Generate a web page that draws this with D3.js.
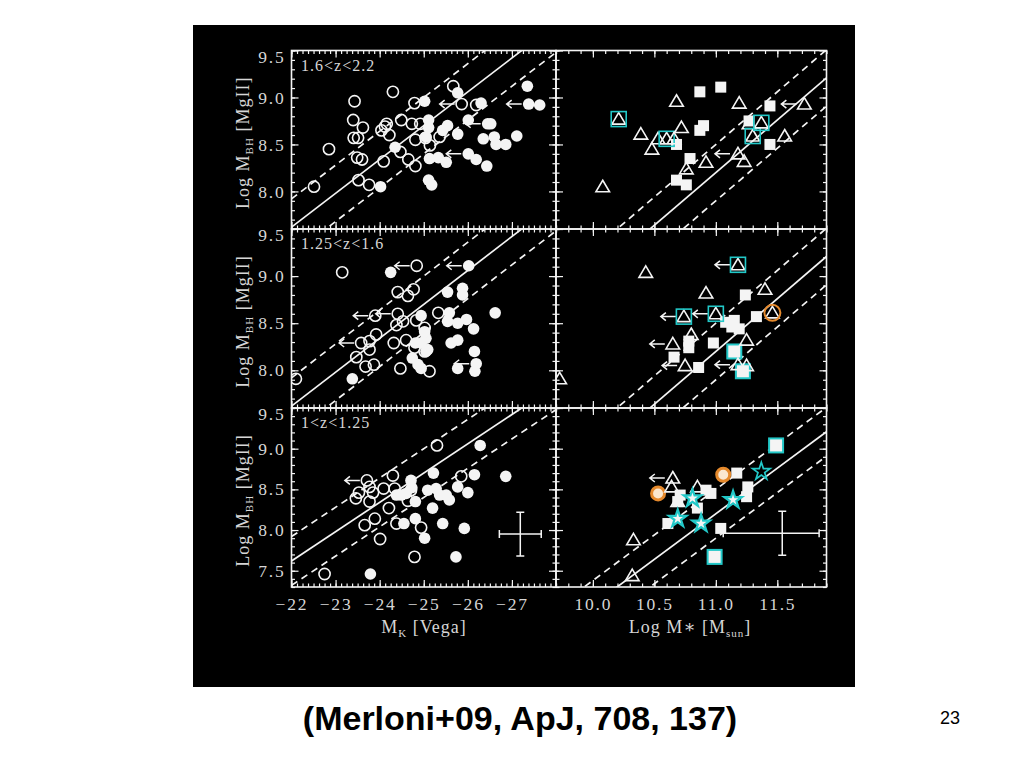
<!DOCTYPE html>
<html><head><meta charset="utf-8">
<script src="https://cdn.jsdelivr.net/npm/d3@7"></script>
<style>body{margin:0;background:#fff}</style>
</head><body><svg id="c" width="1024" height="768"></svg>
<script>
// ---------------- DATA ----------------
const zBins = ["1.6<z<2.2", "1.25<z<1.6", "1<z<1.25"];
const mkTicks = [-22, -23, -24, -25, -26, -27];
const mstarTicks = [10.0, 10.5, 11.0, 11.5];
const mbhTicks = [7.5, 8.0, 8.5, 9.0, 9.5];

// Left panels: [M_K, log M_BH, upperLimitArrow]
const hiZOpenCircles = [[-22.51,8.05,0],[-22.85,8.45,0],[-23.43,8.96,0],[-23.40,8.76,0],[-23.41,8.57,0],[-23.51,8.57,0],[-23.62,8.68,0],[-23.49,8.36,0],[-23.60,8.34,0],[-23.52,8.12,0],[-23.76,8.07,0],[-24.04,8.65,0],[-24.12,8.69,0],[-24.16,8.72,0],[-24.22,8.60,0],[-24.30,9.06,0],[-24.09,8.32,0],[-24.49,8.76,0],[-24.47,8.42,0],[-24.65,8.34,0],[-24.81,8.27,0],[-24.73,8.72,0],[-24.79,8.94,0],[-24.92,8.72,0],[-24.81,8.55,0],[-25.04,8.57,0],[-25.14,8.49,0],[-25.36,8.58,0],[-25.67,9.12,0],[-25.86,8.93,1],[-26.19,8.92,0]];
const hiZFilledCircles = [[-24.02,8.05,0],[-24.35,8.47,0],[-25.02,8.96,0],[-25.11,8.76,0],[-25.11,8.68,0],[-25.05,8.58,0],[-25.13,8.35,0],[-25.33,8.36,0],[-25.51,8.31,0],[-25.11,8.12,0],[-25.18,8.07,0],[-25.54,8.70,0],[-25.43,8.65,0],[-25.77,9.05,0],[-25.77,8.61,0],[-26.01,8.76,0],[-26.01,8.40,1],[-26.19,8.34,0],[-26.30,8.94,0],[-26.45,8.72,1],[-26.52,8.72,0],[-26.35,8.56,0],[-26.60,8.58,0],[-26.64,8.50,0],[-26.86,8.50,0],[-26.43,8.27,0],[-27.11,8.59,0],[-27.35,9.12,0],[-27.38,8.93,1],[-27.63,8.92,0]];
const midZOpenCircles = [[-22.10,7.91,0],[-23.15,9.04,0],[-23.47,8.14,0],[-23.58,8.29,1],[-23.77,8.31,0],[-23.77,8.22,0],[-23.92,8.38,0],[-23.68,8.04,0],[-23.87,8.06,0],[-23.90,8.58,1],[-24.41,8.60,1],[-24.38,8.48,0],[-24.41,8.83,0],[-24.64,8.79,0],[-24.77,8.86,0],[-24.53,8.52,0],[-24.60,8.32,0],[-24.83,8.53,0],[-24.32,8.29,0],[-24.47,8.02,0],[-24.84,9.11,1],[-25.02,8.45,0],[-24.79,8.24,0],[-25.02,8.20,0],[-25.13,7.99,0],[-25.33,8.61,0]];
const midZFilledCircles = [[-23.38,7.91,0],[-24.25,9.04,0],[-24.94,8.58,0],[-24.74,8.13,0],[-24.81,8.29,0],[-24.94,8.29,0],[-25.05,8.20,0],[-25.09,8.22,0],[-24.87,8.06,0],[-24.94,8.02,0],[-25.05,8.34,0],[-25.02,8.41,0],[-25.54,8.83,0],[-25.88,8.87,0],[-25.88,8.80,0],[-25.58,8.61,0],[-25.54,8.52,0],[-25.77,8.50,0],[-25.97,8.54,0],[-25.62,8.29,0],[-25.77,8.32,0],[-26.13,8.44,0],[-26.15,8.20,0],[-25.77,8.02,0],[-26.16,7.99,0],[-26.19,8.07,1],[-26.02,9.11,1],[-26.62,8.61,0]];
const loZOpenCircles = [[-22.75,7.46,0],[-23.46,8.39,0],[-23.53,8.46,0],[-23.71,8.61,1],[-23.77,8.53,0],[-23.85,8.46,0],[-23.77,8.35,0],[-23.66,8.06,0],[-23.89,8.14,0],[-24.01,7.89,0],[-24.09,8.51,0],[-24.21,8.27,0],[-24.30,8.67,0],[-24.34,8.51,0],[-24.38,8.08,0],[-24.64,8.36,0],[-24.79,7.67,0],[-24.94,8.03,0],[-25.30,9.04,0],[-25.85,8.66,0],[-24.71,8.49,0]];
const loZFilledCircles = [[-23.79,7.46,0],[-24.38,8.43,0],[-24.49,8.43,0],[-24.60,8.45,0],[-24.71,8.61,0],[-24.73,8.52,0],[-24.81,8.35,0],[-24.81,8.14,0],[-24.55,8.08,0],[-25.02,7.90,0],[-25.20,8.27,0],[-25.22,8.70,0],[-25.09,8.49,0],[-25.28,8.51,0],[-25.36,8.43,0],[-25.51,8.43,0],[-25.58,8.37,0],[-25.43,8.08,0],[-25.73,7.67,0],[-25.92,8.02,0],[-25.77,8.53,0],[-26.00,8.46,0],[-26.15,8.68,0],[-26.28,9.04,0],[-26.86,8.66,0]];

// Right panels triangles: [log M*, log M_BH, upperLimitArrow, ring(0 none,1 cyan box,2 orange circle)]
const hiZTriangles = [[10.08,8.05,0,0],[10.21,8.77,0,1],[10.39,8.61,0,0],[10.48,8.45,0,0],[10.53,8.56,0,0],[10.60,8.56,0,1],[10.66,8.56,0,0],[10.68,8.96,0,0],[10.72,8.68,0,0],[10.76,8.24,0,0],[10.92,8.31,0,0],[11.19,8.94,0,0],[11.18,8.40,1,0],[11.23,8.32,0,0],[11.27,8.72,0,0],[11.30,8.59,0,1],[11.37,8.73,0,1],[11.56,8.59,0,0],[11.72,8.93,1,0]];
const midZTriangles = [[9.73,7.91,0,0],[10.43,9.04,0,0],[11.18,9.12,1,1],[10.92,8.82,0,0],[11.40,8.86,0,0],[10.74,8.57,1,1],[11.00,8.60,1,1],[11.46,8.61,0,2],[10.80,8.38,0,0],[10.65,8.28,1,0],[11.25,8.32,0,0],[10.75,8.05,1,0],[11.18,8.06,1,0],[11.25,8.05,0,0]];
const loZTriangles = [[10.33,7.88,0,0],[10.32,7.44,0,0],[10.65,8.64,1,0],[10.64,8.53,0,0],[10.85,8.53,0,0],[10.69,8.35,0,0]];
// Squares: [log M*, log M_BH, cyanEdge]
const hiZSquares = [[10.87,9.06,0],[11.04,9.11,0],[10.90,8.70,0],[10.87,8.65,0],[10.68,8.50,0],[10.79,8.35,0],[10.68,8.12,0],[10.76,8.07,0],[11.27,8.75,0],[11.44,8.91,0],[11.44,8.50,0]];
const midZSquares = [[11.24,8.80,0],[11.33,8.57,0],[11.08,8.51,0],[11.15,8.53,0],[11.13,8.46,0],[11.19,8.44,0],[10.78,8.31,0],[10.78,8.24,0],[10.98,8.29,0],[10.66,8.14,0],[10.86,8.03,0],[11.15,8.20,1],[11.22,7.99,1]];
const loZSquares = [[10.71,8.43,0],[10.69,8.35,0],[10.85,8.27,0],[10.61,8.08,0],[10.92,8.49,0],[10.96,8.45,0],[11.17,8.70,0],[11.26,8.53,0],[11.25,8.41,0],[11.04,8.02,0],[11.49,9.04,1],[10.99,7.67,1]];
// Stars: [log M*, log M_BH, filled]
const loZStars = [[10.81,8.39,1],[10.69,8.14,1],[10.88,8.08,1],[11.14,8.37,1],[11.37,8.72,0]];
const loZOrangeCircles = [[10.53,8.45],[11.06,8.68]];

// Typical errors: [x, y, xErrLow, xErrHigh, yErr]
const errMK = [-27.19, 7.95, 0.475, 0.475, 0.27];
const errMstar = [11.54, 7.96, 0.48, 0.30, 0.27];
// Local relations: log M_BH = a + b*(x - x0), scatter
const relMK = {a: 7.62, b: -0.36, x0: -22};
const relMstar = {a: 8.20, b: 1.12, x0: 11.0};
const relScatter = 0.3;

// ---------------- LAYOUT ----------------
const svg = d3.select("#c");
svg.append("rect").attr("x",193).attr("y",25).attr("width",662).attr("height",662).attr("fill","#000");

const rows = [[50.5,229],[229,408],[408,587]];
const yDomains = [[7.6,9.5],[7.6,9.5],[7.3,9.5]];
const cols = [[291.5,556],[556,826.5]];
const xDomains = [[-22,-28],[9.7,11.9]];
const WHITE = "#f4f4f4", LABEL = "#d6d6d6", CYAN = "#22c8c8", ORANGE = "#e5892c";
const FONT = "'Liberation Serif', 'DejaVu Serif', serif";

const leftData = [[hiZOpenCircles, hiZFilledCircles],[midZOpenCircles, midZFilledCircles],[loZOpenCircles, loZFilledCircles]];
const rightData = [[hiZTriangles, hiZSquares],[midZTriangles, midZSquares],[loZTriangles, loZSquares]];

function rangeStep(a, b, s) {
  const out = [];
  const n = Math.round(Math.abs((b - a) / s));
  for (let i = 0; i <= n; i++) out.push(+(a + Math.sign(b - a) * i * s).toFixed(4));
  return out;
}

function arrow(g, cx, cy, off) {
  const x0 = cx - off, x1 = cx - off - 15;
  g.append("path").attr("d", `M${x0},${cy}H${x1}M${x1+5},${cy-4}L${x1},${cy}L${x1+5},${cy+4}`)
    .attr("fill","none").attr("stroke",WHITE).attr("stroke-width",1.5);
}

for (let r = 0; r < 3; r++) {
  for (let c = 0; c < 2; c++) {
    const x = d3.scaleLinear().domain(xDomains[c]).range(cols[c]);
    const y = d3.scaleLinear().domain(yDomains[r]).range([rows[r][1], rows[r][0]]);
    const id = `clip${r}${c}`;
    svg.append("clipPath").attr("id", id).append("rect")
      .attr("x", cols[c][0]).attr("y", rows[r][0])
      .attr("width", cols[c][1]-cols[c][0]).attr("height", rows[r][1]-rows[r][0]);

    // ticks
    const majX = c === 0 ? mkTicks : mstarTicks;
    const minX = c === 0 ? rangeStep(-22, -28, 0.125) : rangeStep(9.7, 11.9, 0.1);
    const minY = rangeStep(yDomains[r][0], yDomains[r][1], 0.1);
    const majY = mbhTicks.filter(v => v >= yDomains[r][0] - 1e-9 && v <= yDomains[r][1] + 1e-9);
    const ax = svg.append("g");
    const fmtX = c === 0 ? (d => "\u2212" + Math.abs(d)) : d3.format(".1f");
    const style = (sel) => {
      sel.select(".domain").remove();
      sel.selectAll("line").attr("stroke", WHITE).attr("stroke-width", 1.2);
      sel.attr("font-family", FONT).attr("font-size", 17.5);
      sel.selectAll("text").attr("fill", LABEL).attr("letter-spacing", "1.8px");
    };
    const showX = r === 2, showY = c === 0;
    ax.append("g").attr("transform", `translate(0,${rows[r][1]})`)
      .call(d3.axisBottom(x).tickValues(majX).tickSize(-7).tickPadding(11).tickFormat(showX ? fmtX : "")).call(style);
    ax.append("g").attr("transform", `translate(0,${rows[r][1]})`)
      .call(d3.axisBottom(x).tickValues(minX).tickSize(-3.5).tickFormat("")).call(style);
    ax.append("g").attr("transform", `translate(0,${rows[r][0]})`)
      .call(d3.axisTop(x).tickValues(majX).tickSize(-7).tickFormat("")).call(style);
    ax.append("g").attr("transform", `translate(0,${rows[r][0]})`)
      .call(d3.axisTop(x).tickValues(minX).tickSize(-3.5).tickFormat("")).call(style);
    const yl = ax.append("g").attr("transform", `translate(${cols[c][0]},0)`)
      .call(d3.axisLeft(y).tickValues(majY).tickSize(-7).tickPadding(6).tickFormat(showY ? d3.format(".1f") : "")).call(style);
    yl.selectAll(".tick").filter(d => d === 9.5).select("text").attr("y", 6);
    ax.append("g").attr("transform", `translate(${cols[c][0]},0)`)
      .call(d3.axisLeft(y).tickValues(minY).tickSize(-3.5).tickFormat("")).call(style);
    ax.append("g").attr("transform", `translate(${cols[c][1]},0)`)
      .call(d3.axisRight(y).tickValues(majY).tickSize(-7).tickFormat("")).call(style);
    ax.append("g").attr("transform", `translate(${cols[c][1]},0)`)
      .call(d3.axisRight(y).tickValues(minY).tickSize(-3.5).tickFormat("")).call(style);

    // border
    svg.append("rect").attr("x", cols[c][0]).attr("y", rows[r][0])
      .attr("width", cols[c][1]-cols[c][0]).attr("height", rows[r][1]-rows[r][0])
      .attr("fill","none").attr("stroke",WHITE).attr("stroke-width",1.6);

    const g = svg.append("g").attr("clip-path", `url(#${id})`);
    // relations
    const rel = c === 0 ? relMK : relMstar;
    const xs = xDomains[c];
    [[0, null], [relScatter, "7,5"], [-relScatter, "7,5"]].forEach(([off, dash]) => {
      const f = v => rel.a + rel.b * (v - rel.x0) + off;
      g.append("line").attr("x1", x(xs[0])).attr("y1", y(f(xs[0])))
        .attr("x2", x(xs[1])).attr("y2", y(f(xs[1])))
        .attr("stroke", WHITE).attr("stroke-width", 1.7).attr("stroke-dasharray", dash);
    });

    if (c === 0) {
      const [open, filled] = leftData[r];
      open.forEach(d => {
        g.append("circle").attr("cx", x(d[0])).attr("cy", y(d[1])).attr("r", 5.6)
          .attr("fill","none").attr("stroke",WHITE).attr("stroke-width",1.6);
        if (d[2]) arrow(g, x(d[0]), y(d[1]), 7);
      });
      filled.forEach(d => {
        g.append("circle").attr("cx", x(d[0])).attr("cy", y(d[1])).attr("r", 5.8).attr("fill",WHITE);
        if (d[2]) arrow(g, x(d[0]), y(d[1]), 7);
      });
      svg.append("text").attr("x", 301).attr("y", rows[r][0] + 20)
        .attr("font-family", FONT).attr("font-size", 16).attr("letter-spacing","1px")
        .attr("fill", LABEL).text(zBins[r]);
    } else {
      const [tris, squares] = rightData[r];
      squares.forEach(d => {
        const cx = x(d[0]), cy = y(d[1]);
        if (d[2]) {
          g.append("rect").attr("x", cx-7).attr("y", cy-7).attr("width",14).attr("height",14)
            .attr("fill",WHITE).attr("stroke",CYAN).attr("stroke-width",2);
        } else {
          g.append("rect").attr("x", cx-5.5).attr("y", cy-5.5).attr("width",11).attr("height",11).attr("fill",WHITE);
        }
      });
      if (r === 2) {
        loZOrangeCircles.forEach(d => {
          g.append("circle").attr("cx", x(d[0])).attr("cy", y(d[1])).attr("r", 6.5)
            .attr("fill","#fbe7cf").attr("stroke",ORANGE).attr("stroke-width",3);
        });
      }
      tris.forEach(d => {
        const cx = x(d[0]), cy = y(d[1]);
        g.append("path").attr("d", `M${cx},${cy-6.5}L${cx+6.8},${cy+5}L${cx-6.8},${cy+5}Z`)
          .attr("fill","none").attr("stroke",WHITE).attr("stroke-width",1.6);
        if (d[2]) arrow(g, cx, cy, 8);
        if (d[3] === 1) {
          g.append("rect").attr("x", cx-7.5).attr("y", cy-7.5).attr("width",15).attr("height",15)
            .attr("fill","none").attr("stroke",CYAN).attr("stroke-width",1.6);
        } else if (d[3] === 2) {
          g.append("circle").attr("cx", cx).attr("cy", cy).attr("r", 8)
            .attr("fill","none").attr("stroke",ORANGE).attr("stroke-width",2);
        }
      });
      if (r === 2) {
        const star = d3.symbol().type(d3.symbolStar).size(95);
        loZStars.forEach(d => {
          g.append("path").attr("d", star()).attr("transform", `translate(${x(d[0])},${y(d[1])})`)
            .attr("fill", d[2] ? WHITE : "none").attr("stroke", CYAN).attr("stroke-width", d[2] ? 2.2 : 1.7);
        });
      }
    }

    // error bars (bottom row)
    if (r === 2) {
      const e = c === 0 ? errMK : errMstar;
      const sgn = c === 0 ? -1 : 1;
      const cx = x(e[0]), cy = y(e[1]);
      const xl = x(e[0] - sgn * e[2]), xr = x(e[0] + sgn * e[3]);
      const yt = y(e[1] + e[4]), yb = y(e[1] - e[4]);
      const p = `M${xl},${cy}H${xr}M${xl},${cy-4}V${cy+4}M${xr},${cy-4}V${cy+4}M${cx},${yt}V${yb}M${cx-4},${yt}H${cx+4}M${cx-4},${yb}H${cx+4}`;
      g.append("path").attr("d", p).attr("fill","none").attr("stroke",WHITE).attr("stroke-width",1.5);
    }
  }
}

// axis titles
rows.forEach((rr, i) => {
  const t = svg.append("text").attr("transform", `translate(249,${(rr[0]+rr[1])/2 + 3}) rotate(-90)`)
    .attr("text-anchor","middle").attr("font-family",FONT).attr("font-size",18)
    .attr("letter-spacing","1px").attr("fill",LABEL);
  t.append("tspan").text("Log M");
  t.append("tspan").attr("font-size",11).attr("dy",4).text("BH");
  t.append("tspan").attr("dy",-4).text(" [MgII]");
});
{
  const t = svg.append("text").attr("x", 424).attr("y", 633).attr("text-anchor","middle")
    .attr("font-family",FONT).attr("font-size",18).attr("letter-spacing","1px").attr("fill",LABEL);
  t.append("tspan").text("M");
  t.append("tspan").attr("font-size",11).attr("dy",4).text("K");
  t.append("tspan").attr("dy",-4).text(" [Vega]");
  const t2 = svg.append("text").attr("x", 690).attr("y", 633).attr("text-anchor","middle")
    .attr("font-family",FONT).attr("font-size",18).attr("letter-spacing","1px").attr("fill",LABEL);
  t2.append("tspan").text("Log M\u2217 [M");
  t2.append("tspan").attr("font-size",11).attr("dy",4).text("sun");
  t2.append("tspan").attr("dy",-4).text("]");
}
// caption
svg.append("text").attr("x", 520).attr("y", 730).attr("text-anchor","middle")
  .attr("font-family","'Liberation Sans', Arial, sans-serif").attr("font-weight","bold")
  .attr("font-size",34).attr("fill","#000").text("(Merloni+09, ApJ, 708, 137)");
svg.append("text").attr("x", 950).attr("y", 724).attr("text-anchor","middle")
  .attr("font-family","'Liberation Sans', Arial, sans-serif").attr("font-size",18).attr("fill","#000").text("23");
</script>
</body></html>
